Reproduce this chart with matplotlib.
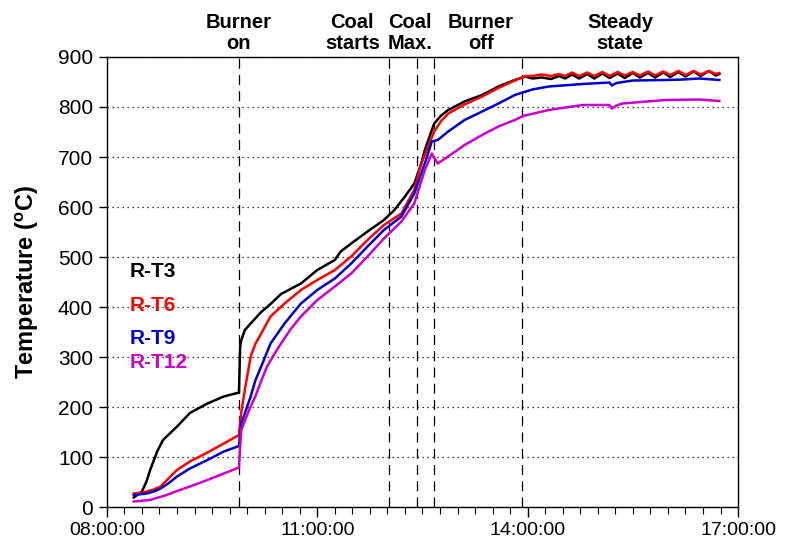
import matplotlib
matplotlib.use("Agg")
import matplotlib.pyplot as plt
from matplotlib.ticker import MultipleLocator

plt.rcParams['font.family'] = ['Liberation Sans', 'DejaVu Sans']
plt.rcParams['mathtext.fontset'] = 'custom'
plt.rcParams['mathtext.bf'] = 'Liberation Sans:bold'
plt.rcParams['mathtext.rm'] = 'Liberation Sans'

def hrs(t):
    h, m = t.split(':')
    return int(h) + int(m) / 60.0

# ---- data (time HH:MM, temperature degC) ----
t3_time = ["08:23", "08:30", "08:34", "08:37", "08:43", "08:48", "09:00", "09:11", "09:26", "09:40", "09:53",
           "09:54", "09:55", "09:58", "10:03", "10:12", "10:20", "10:29", "10:46", "11:00", "11:15",
           "11:20", "11:29", "11:43", "11:57", "12:06", "12:15", "12:23", "12:29", "12:32", "12:40",
           "12:46", "12:52", "13:06", "13:21", "13:35", "13:49", "13:58", "14:04", "14:12", "14:20", "14:27",
           "14:32", "14:38", "14:44", "14:51", "14:57", "15:04", "15:10", "15:17", "15:23", "15:30",
           "15:36", "15:43", "15:49", "15:56", "16:02", "16:09", "16:15", "16:22", "16:28", "16:35",
           "16:41", "16:44"]
t3_val = [19, 31, 52, 74, 111, 134, 161, 188, 207, 221, 229,
          320, 334, 354, 367, 390, 406, 426, 447, 474, 494,
          511, 527, 551, 574, 594, 621, 647, 687, 714, 767,
          783, 794, 811, 824, 841, 854, 861, 857, 859, 856, 862,
          857, 865, 857, 866, 857, 867, 858, 867, 858, 868,
          859, 868, 859, 869, 860, 870, 861, 871, 862, 872,
          863, 866]

t6_time = ["08:23", "08:31", "08:40", "08:46", "08:53", "09:00", "09:11", "09:26", "09:40", "09:53", "09:55", "09:58",
           "10:03", "10:07", "10:12", "10:20", "10:32", "10:46", "11:00", "11:15", "11:29", "11:43", "11:57",
           "12:12", "12:23", "12:29", "12:40", "12:46", "12:52", "13:06", "13:21", "13:35", "13:49", "13:58",
           "14:04", "14:12", "14:20", "14:27", "14:32", "14:38", "14:44", "14:51", "14:57", "15:04",
           "15:10", "15:17", "15:23", "15:30", "15:36", "15:43", "15:49", "15:56", "16:02", "16:09",
           "16:15", "16:22", "16:28", "16:35", "16:41", "16:44"]
t6_val = [27, 29, 35, 41, 58, 74, 91, 109, 127, 144, 190, 234,
          301, 326, 347, 381, 407, 434, 454, 474, 501, 534, 564,
          587, 634, 687, 751, 772, 787, 805, 821, 838, 853, 862,
          862, 865, 862, 866, 862, 869, 862, 869, 862, 870,
          862, 870, 863, 870, 863, 871, 863, 871, 864, 872,
          864, 872, 865, 872, 866, 868]

t9_time = ["08:23", "08:34", "08:40", "08:46", "08:53", "09:00", "09:11", "09:26", "09:40", "09:53", "09:55", "10:03",
           "10:07", "10:12", "10:20", "10:32", "10:46", "11:00", "11:15", "11:29", "11:43", "11:57", "12:12",
           "12:23", "12:32", "12:38", "12:43", "12:52", "13:06", "13:21", "13:35", "13:49", "14:04",
           "14:18", "14:47", "15:10", "15:12", "15:16", "15:30", "15:58", "16:13", "16:27", "16:44"]
t9_val = [24, 27, 31, 37, 48, 61, 77, 94, 111, 122, 167, 221,
          253, 281, 327, 367, 407, 434, 457, 487, 521, 554, 581,
          627, 687, 731, 734, 751, 774, 791, 807, 824, 835,
          841, 846, 849, 843, 848, 853, 854, 855, 857, 854]

t12_time = ["08:23", "08:37", "08:51", "09:00", "09:11", "09:26", "09:40", "09:53", "09:54", "09:55", "10:02",
            "10:07", "10:12", "10:17", "10:23", "10:29", "10:37", "10:46", "11:00", "11:15", "11:29", "11:43",
            "11:57", "12:12", "12:23", "12:32", "12:38", "12:43", "12:52", "13:06", "13:21", "13:35", "13:49",
            "13:56", "14:18", "14:47", "15:10", "15:12", "15:16", "15:21", "15:58", "16:27", "16:44"]
t12_val = [11, 14, 24, 32, 41, 54, 67, 79, 120, 154, 196,
           221, 252, 281, 305, 327, 355, 381, 414, 441, 467, 501,
           537, 571, 607, 674, 707, 687, 701, 724, 744, 761, 774,
           782, 794, 804, 804, 797, 803, 807, 814, 815, 812]

series_names = ["R-T3", "R-T6", "R-T9", "R-T12"]
series_colors = ["#000000", "#FF0000", "#0000CC", "#CC00CC"]

event_times = ["09:53", "12:01", "12:25", "12:40", "13:55"]
event_labels = ["Burner\non", "Coal\nstarts", "Coal\nMax.", "Burner\noff", "Steady\nstate"]
event_label_x = ["09:53", "11:30", "12:19", "13:20", "15:19"]

x_ticks = ["08:00", "11:00", "14:00", "17:00"]

# ---- figure ----
fig = plt.figure(figsize=(7.86, 5.47), dpi=100)
ax = fig.add_axes([0.136, 0.0731, 0.803, 0.8227])

all_t = [t3_time, t6_time, t9_time, t12_time]
all_v = [t3_val, t6_val, t9_val, t12_val]
for tt, vv, c in zip(all_t, all_v, series_colors):
    ax.plot([hrs(t) for t in tt], vv, color=c, lw=1.8, zorder=3)

for t in event_times:
    ax.axvline(hrs(t), color='black', lw=0.9, dashes=(8, 5), zorder=2)

ax.set_xlim(8, 17)
ax.set_ylim(0, 900)
ax.set_xticks([hrs(t) for t in x_ticks])
ax.set_xticklabels([t + ":00" for t in x_ticks])
ax.xaxis.set_minor_locator(MultipleLocator(0.25))
ax.yaxis.set_major_locator(MultipleLocator(100))
ax.grid(axis='y', color='black', linestyle=(0, (1, 3)), lw=0.9)
ax.tick_params(axis='x', which='major', length=7, width=1, labelsize=14, pad=4)
ax.tick_params(axis='x', which='minor', length=5, width=0.8)
ax.tick_params(axis='y', length=6, width=1, labelsize=15, pad=4)
for s in ax.spines.values():
    s.set_linewidth(1.0)

ax.set_ylabel(r"Temperature ($\mathbf{^{o}}$C)", fontsize=17, fontweight='bold', labelpad=12)

for lx, lab in zip(event_label_x, event_labels):
    ax.text(hrs(lx), 1.008, lab, transform=ax.get_xaxis_transform(), ha='center', va='bottom',
            fontsize=14.5, fontweight='bold', linespacing=1.15)

leg_y = [472, 404, 338, 290]
for name, c, yv in zip(series_names, series_colors, leg_y):
    ax.text(8.32, yv, name, color=c, fontsize=15, fontweight='bold', va='center', ha='left')

fig.savefig("out.png", dpi=100)
